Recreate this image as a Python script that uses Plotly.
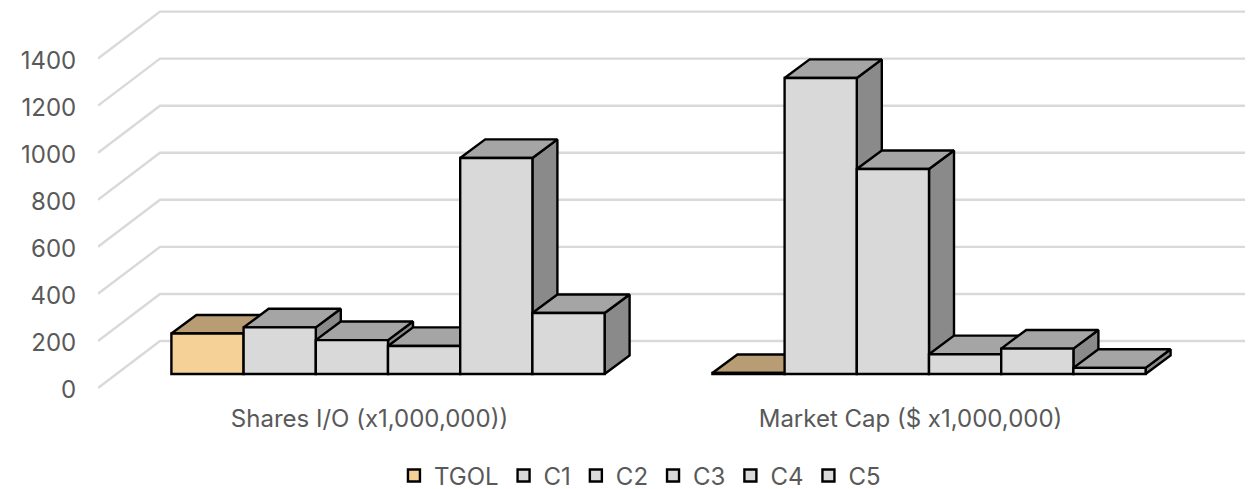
import plotly.graph_objects as go

categories = ["Shares I/O (x1,000,000))", "Market Cap ($ x1,000,000)"]
series_names = ["TGOL", "C1", "C2", "C3", "C4", "C5"]
tgol = [172, 4]
c1 = [198, 1258]
c2 = [144, 871]
c3 = [119, 84]
c4 = [918, 108]
c5 = [259, 26]
y_ticks = [0, 200, 400, 600, 800, 1000, 1200, 1400]

series = [tgol, c1, c2, c3, c4, c5]
FONT = "Inter, 'Open Sans', sans-serif"
TXT = "#595959"
front = ["#F5D097"] + ["#D9D9D9"] * 5
top = ["#B89D74"] + ["#A5A5A5"] * 5
side = ["#93805F"] + ["#8A8A8A"] * 5
EDGE = 2.4

# Pixel layout of the plot box and projection scale
W, H = 1255, 510
L, R, T, B = 98, 1245, 4, 396
PX_X = 541.0           # one category, px
PX_Y = 0.2353          # one value unit, px
ZERO_PX = 388          # front-plane 0
FIRST_PX = 369.5       # front-plane centre of first category

x_range = [(L - FIRST_PX) / PX_X, (R - FIRST_PX) / PX_X]
y_range = [(ZERO_PX - B) / PX_Y, (ZERO_PX - T) / PX_Y]
# bars stand part-way into the floor
SHIFT_X, SHIFT_Y = 18.5 / PX_X, 14 / PX_Y
x_range2 = [x_range[0] - SHIFT_X, x_range[1] - SHIFT_X]
y_range2 = [y_range[0] - SHIFT_Y, y_range[1] - SHIFT_Y]

WALL_DX, WALL_DY = 62 / PX_X, 47 / PX_Y
BAR_DX, BAR_DY = 25 / PX_X, 18.6 / PX_Y
BAR_W = 72.2 / PX_X

fig = go.Figure()

# Floor/wall grid lines, on the base axes
gx, gy = [], []
for v in y_ticks:
    gx += [x_range[0], x_range[0] + WALL_DX, x_range[1], None]
    gy += [v, v + WALL_DY, v + WALL_DY, None]
fig.add_trace(go.Scatter(x=gx, y=gy, mode="lines", showlegend=False, hoverinfo="skip",
                         line=dict(color="#D9D9D9", width=2.4), xaxis="x", yaxis="y"))

# Top and side faces, left to right
for g in range(len(categories)):
    for i, vals in enumerate(series):
        v = vals[g]
        xl = g + (i - 2.5) * BAR_W - BAR_W / 2
        xr = xl + BAR_W
        fig.add_trace(go.Scatter(
            x=[xr, xr + BAR_DX, xr + BAR_DX, xr, xr],
            y=[0, BAR_DY, v + BAR_DY, v, 0],
            mode="lines", fill="toself", fillcolor=side[i], showlegend=False, hoverinfo="skip",
            line=dict(color="#000000", width=EDGE), xaxis="x2", yaxis="y2"))
        fig.add_trace(go.Scatter(
            x=[xl, xl + BAR_DX, xr + BAR_DX, xr, xl],
            y=[v, v + BAR_DY, v + BAR_DY, v, v],
            mode="lines", fill="toself", fillcolor=top[i], showlegend=False, hoverinfo="skip",
            line=dict(color="#000000", width=EDGE), xaxis="x2", yaxis="y2"))

# Front faces
for i, vals in enumerate(series):
    fig.add_trace(go.Bar(x=[0, 1], y=vals, name=series_names[i], xaxis="x3", yaxis="y3",
                         marker=dict(color=front[i], line=dict(color="#000000", width=EDGE))))

hidden = dict(visible=False, showgrid=False, zeroline=False, fixedrange=True)
fig.update_layout(
    width=W, height=H,
    autosize=False,
    margin=dict(l=L, r=W - R, t=T, b=H - B, pad=0, autoexpand=False),
    paper_bgcolor="#FFFFFF", plot_bgcolor="rgba(0,0,0,0)",
    barmode="group", bargap=1 - 6 * BAR_W, bargroupgap=0,
    font=dict(family=FONT, size=24, color=TXT),
    xaxis=dict(range=x_range, tickmode="array", tickvals=[0, 1], ticktext=categories,
               showgrid=False, zeroline=False, showline=False, ticks="outside", ticklen=1,
               tickcolor="rgba(0,0,0,0)", tickfont=dict(family=FONT, size=24, color=TXT)),
    yaxis=dict(range=y_range, tickmode="array", tickvals=y_ticks, ticktext=[str(t) for t in y_ticks],
               showgrid=False, zeroline=False, showline=False, ticks="outside", ticklen=16,
               ticklabelshift=2,
               tickcolor="rgba(0,0,0,0)", tickfont=dict(family=FONT, size=24, color=TXT)),
    xaxis2=dict(range=x_range2, overlaying="x", **hidden),
    yaxis2=dict(range=y_range2, overlaying="y", **hidden),
    xaxis3=dict(range=x_range2, overlaying="x", **hidden),
    yaxis3=dict(range=y_range2, overlaying="y", **hidden),
    legend=dict(orientation="h", x=0.4725, xref="paper", xanchor="center", y=-0.204, yanchor="middle",
                traceorder="normal", font=dict(family=FONT, size=24, color=TXT),
                itemwidth=30, bgcolor="rgba(0,0,0,0)"),
    showlegend=True,
)
fig.write_html("out.html", config=dict(displayModeBar=False),
               post_script="document.body.style.margin='0';document.documentElement.style.overflow='hidden';")
